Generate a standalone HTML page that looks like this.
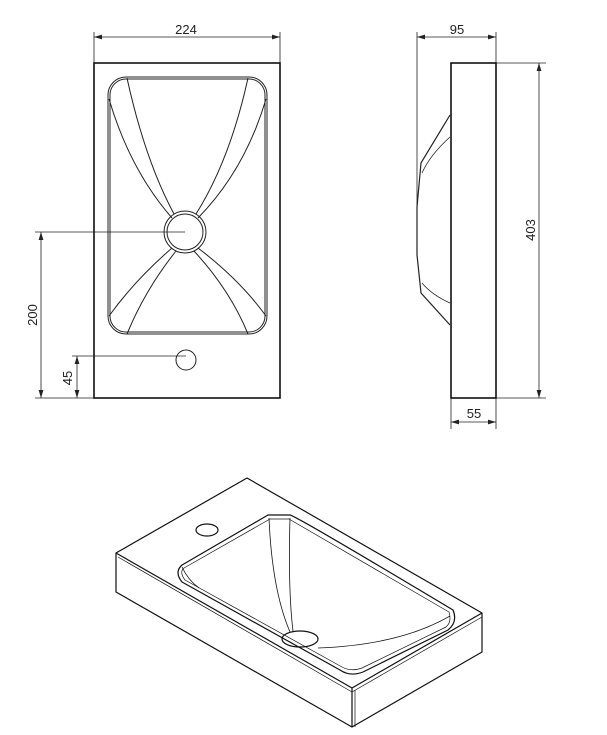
<!DOCTYPE html>
<html><head><style>body{margin:0;background:#fff}svg{display:block}text{font-family:"Liberation Sans",sans-serif;font-size:13px;fill:#222}</style></head><body>
<svg width="607" height="735" viewBox="0 0 607 735" xmlns="http://www.w3.org/2000/svg">
<defs><marker id="a" viewBox="0 0 10 6" refX="10" refY="3" markerWidth="10" markerHeight="6" orient="auto-start-reverse"><path d="M0,0L10,3L0,6z" fill="#222"/></marker></defs>
<g fill="none" stroke="#222" stroke-width="0.8">
<!-- front view dims -->
<line x1="94" y1="32" x2="94" y2="63"/><line x1="280" y1="32" x2="280" y2="63"/>
<line x1="94" y1="37" x2="280" y2="37" marker-start="url(#a)" marker-end="url(#a)"/>
<line x1="35" y1="232" x2="185" y2="232"/><line x1="35" y1="398" x2="94" y2="398"/>
<line x1="41" y1="232" x2="41" y2="398" marker-start="url(#a)" marker-end="url(#a)"/>
<line x1="72" y1="356" x2="186" y2="356"/>
<line x1="77" y1="356" x2="77" y2="398" marker-start="url(#a)" marker-end="url(#a)"/>
</g>
<g fill="none" stroke="#111" stroke-width="1.6">
<rect x="94" y="63" width="186" height="335"/>
</g>
<g fill="none" stroke="#222" stroke-width="1">
<rect x="108" y="77" width="159" height="257" rx="18"/>
<rect x="110" y="79" width="155" height="253" rx="16"/>
<circle cx="185" cy="232" r="21"/><circle cx="185" cy="232" r="18"/>
<circle cx="186" cy="360" r="10"/>
<path d="M127,78 Q145,160 174,214 M109,99 Q130,170 172,218"/>
<path d="M248,78 Q230,160 196,214 M266,99 Q245,170 198,218"/>
<path d="M127,334 Q145,290 176,251 M109,316 Q135,280 172,248"/>
<path d="M248,334 Q230,290 194,251 M266,316 Q240,280 198,248"/>
</g>
<text x="186" y="34" text-anchor="middle">224</text>
<text transform="translate(37,315) rotate(-90)" text-anchor="middle">200</text>
<text transform="translate(72,378) rotate(-90)" text-anchor="middle">45</text>
<!-- side view -->
<g fill="none" stroke="#222" stroke-width="0.8">
<line x1="417" y1="32" x2="417" y2="255"/><line x1="496" y1="32" x2="496" y2="63"/>
<line x1="417" y1="37" x2="496" y2="37" marker-start="url(#a)" marker-end="url(#a)"/>
<line x1="496" y1="63" x2="546" y2="63"/><line x1="496" y1="398" x2="546" y2="398"/>
<line x1="539" y1="63" x2="539" y2="398" marker-start="url(#a)" marker-end="url(#a)"/>
<line x1="451" y1="398" x2="451" y2="429"/><line x1="496" y1="398" x2="496" y2="429"/>
<line x1="451" y1="422" x2="496" y2="422" marker-start="url(#a)" marker-end="url(#a)"/>
</g>
<rect x="451" y="63" width="45" height="335" fill="none" stroke="#111" stroke-width="1.6"/>
<g fill="none" stroke="#222" stroke-width="1.2">
<path d="M450,115 L421,163 L417,207 L417,255 L421,293 L450,325"/>
<path d="M450,137 Q430,155 422,173 M422,283 Q432,295 450,303" stroke-width="0.8"/>
</g>
<text x="457" y="34" text-anchor="middle">95</text>
<text transform="translate(535,230) rotate(-90)" text-anchor="middle">403</text>
<text x="474" y="418" text-anchor="middle">55</text>
<!-- isometric -->
<g fill="none" stroke="#111" stroke-width="1.2" stroke-linejoin="round">
<path d="M247,478 L116,553 L352,688 L482,613 Z"/>
<path d="M116,553 L116,592 L352,727 L482,652 L482,613"/>
<path d="M352,688 L352,727"/>
<path d="M118,557 L352,692 L482,617" stroke-width="0.7"/>
<path d="M355,690 L355,727" stroke-width="0.7"/>
<path d="M268,515 L290,515 Q296,516 453,610 Q458,622 448,630 L363,672 Q350,677 340,670 L182,582 Q174,572 182,565 Z"/>
<path d="M270,519 L289,519 L449,612 Q452,622 446,627 L362,668 Q351,672 342,667 L185,580 Q179,572 184,568 Z" stroke-width="0.7"/>
<ellipse cx="300" cy="639" rx="18" ry="8"/>
<ellipse cx="207" cy="530" rx="11" ry="6"/>
<path d="M269,518 Q272,590 290,632 M290,518 Q288,590 293,631" stroke-width="0.8"/>
<path d="M318,648 Q400,645 450,616" stroke-width="0.8"/>
<path d="M182,567 Q188,580 199,588" stroke-width="0.8"/>
</g>
</svg>
</body></html>
